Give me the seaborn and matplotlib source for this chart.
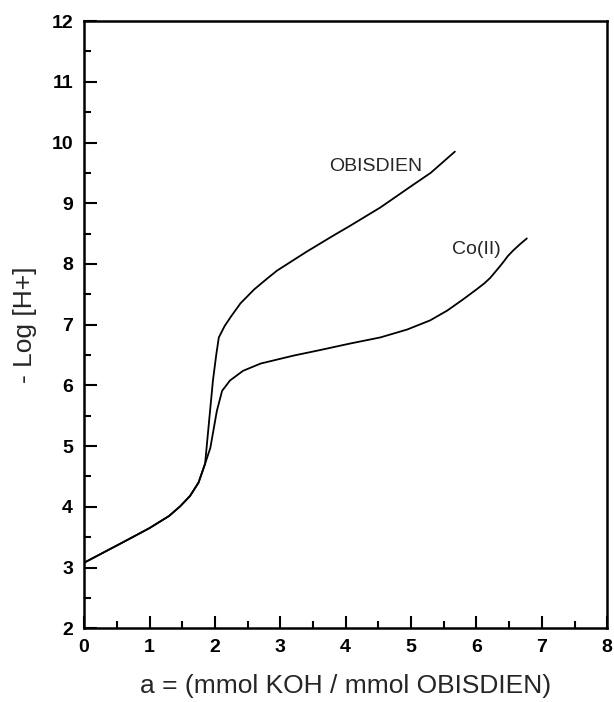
import matplotlib
matplotlib.use("Agg")
import matplotlib.pyplot as plt
from matplotlib.ticker import MultipleLocator
import pandas as pd
import seaborn as sns

# titration curves
ligand_x = [0.0, 0.3, 0.6, 1.0, 1.3, 1.47, 1.62, 1.75, 1.85, 1.91, 1.97, 2.02, 2.06,
            2.15, 2.25, 2.39, 2.6, 2.8, 2.95, 3.4, 3.8, 4.07, 4.53, 5.0, 5.3, 5.67]
ligand_y = [3.08, 3.25, 3.42, 3.65, 3.85, 4.01, 4.18, 4.4, 4.71, 5.4, 6.08, 6.5, 6.79,
            6.98, 7.14, 7.35, 7.58, 7.76, 7.89, 8.2, 8.46, 8.63, 8.93, 9.28, 9.5, 9.85]

cobalt_x = [0.0, 0.3, 0.6, 1.0, 1.3, 1.47, 1.62, 1.75, 1.85, 1.93, 2.03, 2.11, 2.23,
            2.43, 2.7, 3.2, 3.6, 4.07, 4.53, 4.94, 5.29, 5.55, 5.8, 6.0, 6.12, 6.21,
            6.28, 6.35, 6.41, 6.48, 6.56, 6.66, 6.77]
cobalt_y = [3.08, 3.25, 3.42, 3.65, 3.85, 4.01, 4.18, 4.4, 4.71, 4.97, 5.58, 5.91, 6.08,
            6.24, 6.36, 6.49, 6.58, 6.69, 6.79, 6.92, 7.07, 7.23, 7.42, 7.58, 7.68, 7.77,
            7.86, 7.95, 8.03, 8.13, 8.22, 8.32, 8.42]

curve_labels = ["OBISDIEN", "Co(II)"]

df = pd.concat([
    pd.DataFrame({"a": ligand_x, "pH": ligand_y, "curve": curve_labels[0]}),
    pd.DataFrame({"a": cobalt_x, "pH": cobalt_y, "curve": curve_labels[1]}),
])

sns.set_style("ticks")
plt.rcParams["font.family"] = ["Liberation Sans", "DejaVu Sans"]

fig = plt.figure(figsize=(6.14, 7.02), dpi=100)
ax = fig.add_axes([0.137, 0.105, 0.852, 0.865])

sns.lineplot(data=df, x="a", y="pH", units="curve", estimator=None, sort=False,
             color="black", linewidth=1.3, ax=ax)

ax.text(3.75, 9.6, curve_labels[0], fontsize=14, va="center", ha="left")
ax.text(5.62, 8.23, curve_labels[1], fontsize=14, va="center", ha="left")

ax.set_xlim(0, 8)
ax.set_ylim(2, 12)
ax.xaxis.set_major_locator(MultipleLocator(1))
ax.xaxis.set_minor_locator(MultipleLocator(0.5))
ax.yaxis.set_major_locator(MultipleLocator(1))
ax.yaxis.set_minor_locator(MultipleLocator(0.5))
ax.tick_params(which="both", direction="in", top=False, right=False, width=1.5,
               labelsize=14, colors="black")
ax.tick_params(which="major", length=9, pad=8)
ax.tick_params(which="minor", length=5)
for label in ax.get_xticklabels() + ax.get_yticklabels():
    label.set_fontweight("bold")
for spine in ax.spines.values():
    spine.set_visible(True)
    spine.set_linewidth(1.8)
    spine.set_color("black")

ax.set_xlabel("a = (mmol KOH / mmol OBISDIEN)", fontsize=19, labelpad=13)
ax.set_ylabel("- Log [H+]", fontsize=19, labelpad=10)

fig.savefig("out.png", dpi=100)
plt.close(fig)
